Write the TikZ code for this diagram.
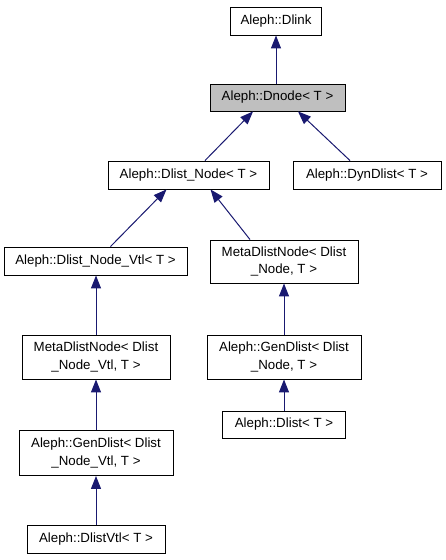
\documentclass[tikz,border=0pt]{standalone}
\usepackage{fontspec}
\setmainfont{Liberation Sans}
\usetikzlibrary{arrows.meta,calc}
\definecolor{edgeblue}{RGB}{25,25,112}
\definecolor{boxgray}{RGB}{191,191,191}
\tikzset{
  cls/.style={draw=black, line width=0.9pt, fill=white, inner sep=0pt, align=center,
    font=\fontsize{13.3}{17.5}\selectfont},
  edge/.style={draw=edgeblue, line width=1pt, -{Triangle[width=10pt,length=13pt]}}
}
\begin{document}
\begin{tikzpicture}[x=1pt,y=-1pt]
\useasboundingbox (0,0) rectangle (445,560);
\node[cls, minimum width=91pt, minimum height=28pt] (dlink) at (276,21) {Aleph::Dlink};
\node[cls, fill=boxgray, minimum width=135pt, minimum height=27pt] (dnode) at (277.5,97.5) {Aleph::Dnode< T >};
\node[cls, minimum width=161pt, minimum height=28pt] (dln) at (188.5,175) {Aleph::Dlist\_Node< T >};
\node[cls, minimum width=148pt, minimum height=28pt] (dyn) at (367,175) {Aleph::DynDlist< T >};
\node[cls, minimum width=183pt, minimum height=28pt] (vtl) at (95.5,261) {Aleph::Dlist\_Node\_Vtl< T >};
\node[cls, minimum width=148pt, minimum height=43pt] (meta1) at (284,261.5) {MetaDlistNode< Dlist\\\_Node, T >};
\node[cls, minimum width=148pt, minimum height=44pt] (meta2) at (96,357) {MetaDlistNode< Dlist\\\_Node\_Vtl, T >};
\node[cls, minimum width=154pt, minimum height=44pt] (gen1) at (284,357) {Aleph::GenDlist< Dlist\\\_Node, T >};
\node[cls, minimum width=154pt, minimum height=45pt] (gen2) at (96,453) {Aleph::GenDlist< Dlist\\\_Node\_Vtl, T >};
\node[cls, minimum width=123pt, minimum height=27pt] (dlist) at (284,424.5) {Aleph::Dlist< T >};
\node[cls, minimum width=138pt, minimum height=28pt] (dvtl) at (96,539) {Aleph::DlistVtl< T >};

\draw[edge] (dnode.north -| dlink.south) -- (dlink.south);
\draw[edge] ($(dln.north)+(16.5,0)$) -- ($(dnode.south)+(-24.5,0)$);
\draw[edge] ($(dyn.north)+(-17,0)$) -- ($(dnode.south)+(20.5,0)$);
\draw[edge] ($(vtl.north)+(15,0)$) -- ($(dln.south)+(-22,0)$);
\draw[edge] ($(meta1.north)+(-34,0)$) -- ($(dln.south)+(22,0)$);
\draw[edge] (meta2.north) -- (vtl.south -| meta2.north);
\draw[edge] (gen1.north) -- (meta1.south);
\draw[edge] (gen2.north) -- (meta2.south);
\draw[edge] (dlist.north) -- (gen1.south);
\draw[edge] (dvtl.north) -- (gen2.south);
\end{tikzpicture}
\end{document}
